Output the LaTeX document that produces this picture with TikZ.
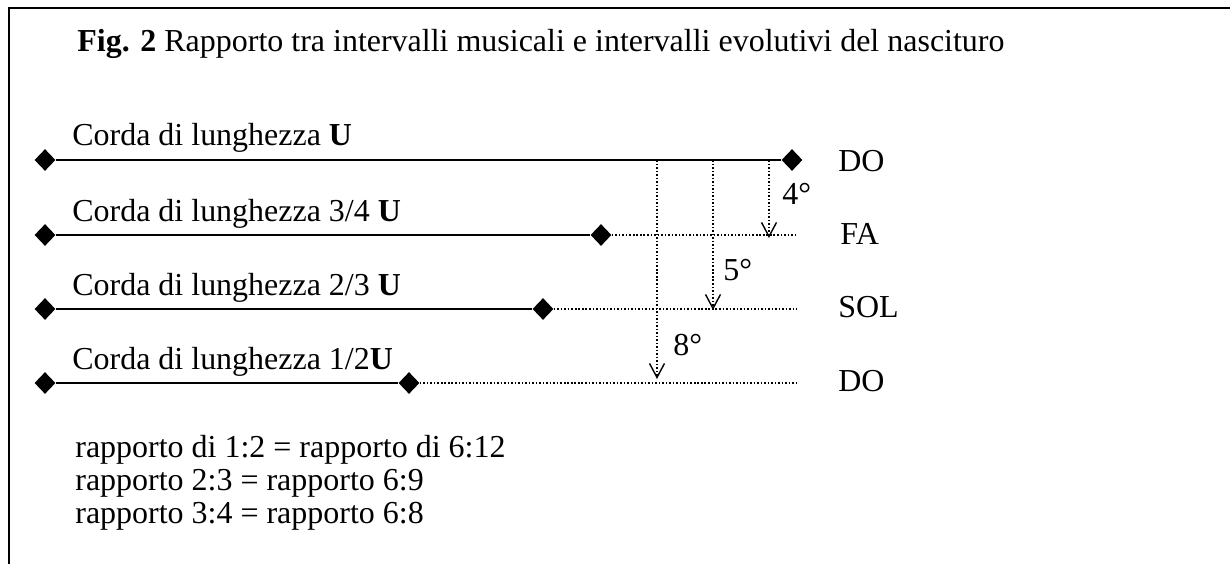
\documentclass[tikz,border=0pt]{standalone}
\usepackage{fontspec}
\setmainfont{Liberation Serif}
\usetikzlibrary{arrows.meta,shapes.geometric,positioning}

\begin{document}
\begin{tikzpicture}[x=0.02cm, y=-0.02cm, every node/.style={font=\fontsize{18.2}{22}\selectfont}]
        % Define styles
        \tikzset{
            endpt/.style={diamond, fill=black, inner sep=0pt, minimum width=0.42cm, minimum height=0.44cm},
            chord/.style={line width=1.1pt},
            guide/.style={line width=0.9pt, dash pattern=on 0.9pt off 1.1pt},
            interval/.style={guide, -{Straight Barb[length=8pt, width=8.5pt, line width=0.8pt]}},
            txt/.style={anchor=base west, inner sep=0pt}
        }

        \useasboundingbox (0,0) rectangle (1230,564);

        % Draw frame (open at right and bottom)
        \draw[line width=1.6pt] (1230,8) -- (9,8) -- (9,564);

        % Title
        \node[txt] (title) at (77,52) {\textbf{Fig. 2} Rapporto tra intervalli musicali e intervalli evolutivi del nascituro};

        % Define chord end points
        \node[endpt] (a0) at (45,160) {};
        \node[endpt] (a1) at (792,160) {};
        \node[endpt] (b0) at (45,235) {};
        \node[endpt] (b1) at (601,235) {};
        \node[endpt] (c0) at (45,309) {};
        \node[endpt] (c1) at (543,309) {};
        \node[endpt] (d0) at (45,383) {};
        \node[endpt] (d1) at (409,383) {};
        \coordinate (bE) at (795,235);
        \coordinate (cE) at (797,309);
        \coordinate (dE) at (797,383);

        % Draw chords
        \draw[chord] (a0) -- (a1);
        \draw[chord] (b0) -- (b1);
        \draw[chord] (c0) -- (c1);
        \draw[chord] (d0) -- (d1);

        % Draw dotted prolongations
        \draw[guide] (b1) -- (bE);
        \draw[guide] (c1) -- (cE);
        \draw[guide] (d1) -- (dE);

        % Draw interval arrows
        \coordinate (p4) at (769,160);
        \coordinate (q4) at (769,238);
        \coordinate (p5) at (713,160);
        \coordinate (q5) at (713,310);
        \coordinate (p8) at (657,160);
        \coordinate (q8) at (657,379);
        \draw[interval] (p4) -- (q4);
        \draw[interval] (p5) -- (q5);
        \draw[interval] (p8) -- (q8);

        % Label chords
        \node[txt] (la) at (72,146) {Corda di lunghezza \textbf{U}};
        \node[txt] (lb) at (72,221) {Corda di lunghezza 3/4 \textbf{U}};
        \node[txt] (lc) at (72,295) {Corda di lunghezza 2/3 \textbf{U}};
        \node[txt] (ld) at (72,369) {Corda di lunghezza 1/2\textbf{U}};

        % Label notes
        \node[txt] (na) at (838,172) {DO};
        \node[txt] (nb) at (840,244) {FA};
        \node[txt] (nc) at (838,317) {SOL};
        \node[txt] (nd) at (838,391) {DO};

        % Label intervals
        \node[txt] (i4) at (782,205) {4°};
        \node[txt] (i5) at (723,280) {5°};
        \node[txt] (i8) at (673,355) {8°};

        % Ratios
        \node[txt] (r1) at (75,457) {rapporto di 1:2 = rapporto di 6:12};
        \node[txt] (r2) at (75,490) {rapporto 2:3 = rapporto 6:9};
        \node[txt] (r3) at (75,523) {rapporto 3:4 = rapporto 6:8};
\end{tikzpicture}
\end{document}
